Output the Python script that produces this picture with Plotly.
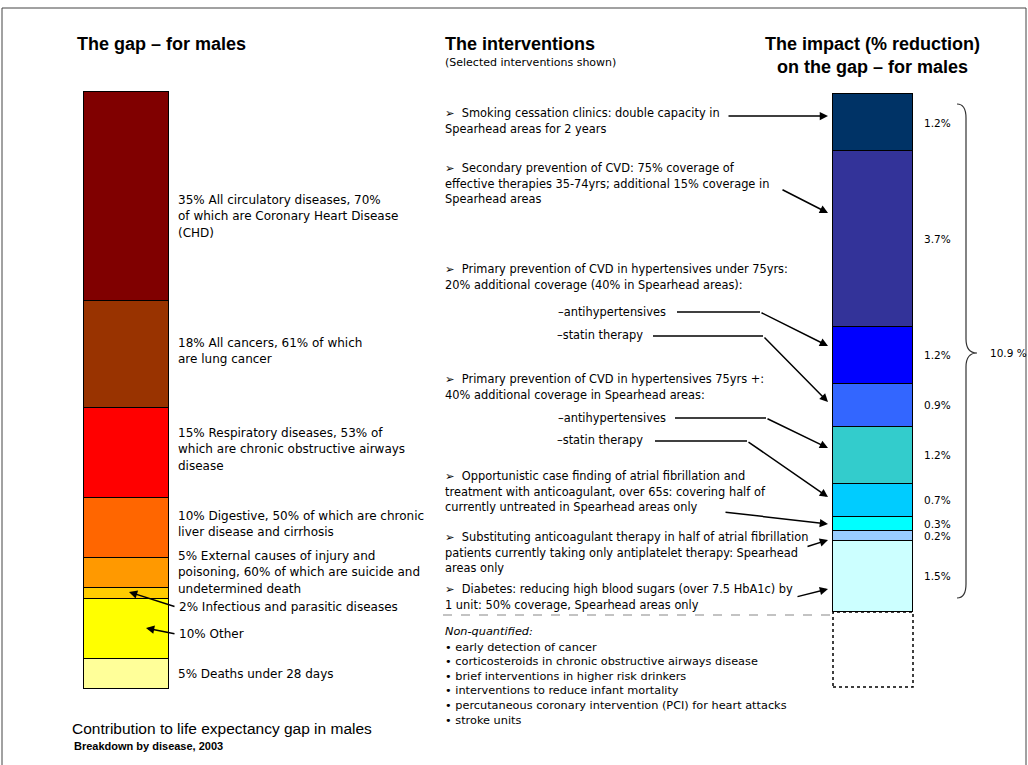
import plotly.graph_objects as go

W, H = 1028, 765
FONT = "Arial, 'Liberation Sans', sans-serif"
BODY = "'DejaVu Sans', Verdana, sans-serif"

# ---------------- data ----------------
# Left bar: contribution to life expectancy gap (bottom -> top)
gap_causes = ["Deaths under 28 days", "Other", "Infectious and parasitic diseases",
              "External causes of injury and poisoning", "Digestive",
              "Respiratory diseases", "All cancers", "All circulatory diseases"]
gap_share = [5, 10, 2, 5, 10, 15, 18, 35]
gap_colors = ["#FFFF99", "#FFFF00", "#FFCC00", "#FF9900", "#FF6600",
              "#FF0000", "#993300", "#800000"]

# Right bar: impact (% reduction) on the gap (bottom -> top)
interv_names = ["Diabetes", "Substituting anticoagulant therapy", "Opportunistic AF finding",
                "Statin therapy 75+", "Antihypertensives 75+", "Statin therapy <75",
                "Antihypertensives <75", "Secondary prevention of CVD", "Smoking cessation"]
impact = [1.5, 0.2, 0.3, 0.7, 1.2, 0.9, 1.2, 3.7, 1.2]
impact_colors = ["#CCFFFF", "#99CCFF", "#00FFFF", "#00CCFF", "#33CCCC",
                 "#3366FF", "#0000FF", "#333399", "#003366"]
impact_total_label = "10.9 %"

left_labels = [
    "35% All circulatory diseases, 70%<br>of which are Coronary Heart Disease<br>(CHD)",
    "18% All cancers, 61% of which<br>are lung cancer",
    "15% Respiratory diseases, 53% of<br>which are chronic obstructive airways<br>disease",
    "10% Digestive, 50% of which are chronic<br>liver disease and cirrhosis",
    "5% External causes of injury and<br>poisoning, 60% of which are suicide and<br>undetermined death",
    "2% Infectious and parasitic diseases",
    "10% Other",
    "5% Deaths under 28 days",
]

intervention_texts = [
    "➢  Smoking cessation clinics: double capacity in<br>Spearhead areas for 2 years",
    "➢  Secondary prevention of CVD: 75% coverage of<br>effective therapies 35-74yrs; additional 15% coverage in<br>Spearhead areas",
    "➢  Primary prevention of CVD in hypertensives under 75yrs:<br>20% additional coverage (40% in Spearhead areas):",
    "➢  Primary prevention of CVD in hypertensives 75yrs +:<br>40% additional coverage in Spearhead areas:",
    "➢  Opportunistic case finding of atrial fibrillation and<br>treatment with anticoagulant, over 65s: covering half of<br>currently untreated in Spearhead areas only",
    "➢  Substituting anticoagulant therapy in half of atrial fibrillation<br>patients currently taking only antiplatelet therapy: Spearhead<br>areas only",
    "➢  Diabetes: reducing high blood sugars (over 7.5 HbA1c) by<br>1 unit: 50% coverage, Spearhead areas only",
]
sub_items = ["–antihypertensives", "–statin therapy"]

non_quantified = ["early detection of cancer",
                  "corticosteroids in chronic obstructive airways disease",
                  "brief interventions in higher risk drinkers",
                  "interventions to reduce infant mortality",
                  "percutaneous coronary intervention (PCI) for heart attacks",
                  "stroke units"]

# ---------------- helpers ----------------
def px(x):
    return x / W


def py(y):
    return 1 - y / H


annotations = []
shapes = []


def text(x, y, s, size=12, bold=False, italic=False, xanchor="left", spacing=None,
         color="black", family=BODY):
    lines = s.split("<br>")
    sp = spacing if spacing else size * 1.35
    for i, ln in enumerate(lines):
        t = ln
        if bold:
            t = "<b>" + t + "</b>"
        if italic:
            t = "<i>" + t + "</i>"
        annotations.append(dict(x=px(x), y=py(y + i * sp), xref="paper", yref="paper",
                                text=t, showarrow=False, xanchor=xanchor, yanchor="middle",
                                font=dict(family=family, size=size, color=color)))


def line(p0, p1, width=1.5, color="black", dash="solid"):
    shapes.append(dict(type="line", xref="paper", yref="paper",
                       x0=px(p0[0]), y0=py(p0[1]), x1=px(p1[0]), y1=py(p1[1]),
                       line=dict(color=color, width=width, dash=dash)))


def arrow(tail, head, via=None):
    start = tail
    if via is not None:
        line(tail, via)
        start = via
    annotations.append(dict(x=px(head[0]), y=py(head[1]), xref="paper", yref="paper",
                            ax=start[0] - head[0], ay=start[1] - head[1],
                            axref="pixel", ayref="pixel", text="", showarrow=True,
                            arrowhead=2, arrowsize=1.1, arrowwidth=1.5,
                            arrowcolor="black", standoff=0, startstandoff=0))


# ---------------- figure ----------------
fig = go.Figure()

for name, v, c in zip(gap_causes, gap_share, gap_colors):
    fig.add_trace(go.Bar(x=[0], y=[v], width=1, name=name, xaxis="x", yaxis="y",
                         marker=dict(color=c, line=dict(color="black", width=1.5)),
                         hoverinfo="name", showlegend=False))

for name, v, c in zip(interv_names, impact, impact_colors):
    fig.add_trace(go.Bar(x=[0], y=[v], width=1, name=name, xaxis="x2", yaxis="y2",
                         marker=dict(color=c, line=dict(color="black", width=1.5)),
                         hoverinfo="name", showlegend=False))

# axis geometry (pixels of bar boxes)
PAD = 4
L_X0, L_X1, L_Y0, L_Y1 = 84, 169, 92, 689
R_X0, R_X1, R_Y0, R_YB, R_Y1 = 833, 913, 94, 612, 687

gap_total = sum(gap_share)
l_scale_y = (L_Y1 - L_Y0) / gap_total
l_scale_x = (L_X1 - L_X0)
total = round(sum(impact), 1)
r_scale_y = (R_YB - R_Y0) / total
r_scale_x = (R_X1 - R_X0)
dash_units = (R_Y1 - R_YB) / r_scale_y

fig.update_layout(
    xaxis=dict(domain=[px(L_X0 - PAD), px(L_X1 + PAD)],
               range=[-0.5 - PAD / l_scale_x, 0.5 + PAD / l_scale_x],
               visible=False, fixedrange=True, anchor="y"),
    yaxis=dict(domain=[py(L_Y1 + PAD), py(L_Y0 - PAD)],
               range=[-PAD / l_scale_y, gap_total + PAD / l_scale_y],
               visible=False, fixedrange=True, anchor="x"),
    xaxis2=dict(domain=[px(R_X0 - PAD), px(R_X1 + PAD)],
                range=[-0.5 - PAD / r_scale_x, 0.5 + PAD / r_scale_x],
                visible=False, fixedrange=True, anchor="y2"),
    yaxis2=dict(domain=[py(R_Y1 + PAD), py(R_Y0 - PAD)],
                range=[-dash_units - PAD / r_scale_y, total + PAD / r_scale_y],
                visible=False, fixedrange=True, anchor="x2"),
    barmode="stack",
    bargap=0,
    width=W, height=H,
    margin=dict(l=0, r=0, t=0, b=0),
    paper_bgcolor="white", plot_bgcolor="rgba(0,0,0,0)",
    showlegend=False,
)

# dashed box below impact bar (non-quantified)
shapes.append(dict(type="rect", xref="x2", yref="y2", x0=-0.5, x1=0.5, y0=-dash_units, y1=0,
                   line=dict(color="black", width=1.5, dash="dot"), layer="above"))

# value labels on impact bar
cum = 0
for v in impact:
    annotations.append(dict(x=0.5, y=cum + v / 2, xref="x2", yref="y2", text=f"{v}%",
                            showarrow=False, xanchor="left", yanchor="middle", xshift=9,
                            font=dict(family=BODY, size=10.5, color="black")))
    cum += v

# curly brace for total
ya_top = total - 10 / r_scale_y
ya_bot = 14 / r_scale_y
ymid = total / 2
d = 14 / r_scale_y
xa, xb, xc = px(957), px(966), px(977)
brace = (f"M {xa},{ya_top} Q {xb},{ya_top} {xb},{ya_top - d} "
         f"L {xb},{ymid + d} Q {xb},{ymid} {xc},{ymid} "
         f"Q {xb},{ymid} {xb},{ymid - d} "
         f"L {xb},{ya_bot + d} Q {xb},{ya_bot} {xa},{ya_bot}")
shapes.append(dict(type="path", xref="paper", yref="y2", path=brace,
                   line=dict(color="#333333", width=1.2)))
annotations.append(dict(x=px(988), y=ymid, xref="paper", yref="y2", text=impact_total_label,
                        showarrow=False, xanchor="left", yanchor="middle",
                        font=dict(family=BODY, size=10.5, color="black")))

# titles
text(75, 44, "The gap – for males", size=18, bold=True, family=FONT)
text(443, 44, "The interventions", size=18, bold=True, family=FONT)
text(443, 62, "(Selected interventions shown)", size=11)
text(872, 44, "The impact (% reduction)<br>on the gap – for males", size=18, bold=True,
     xanchor="center", spacing=23, family=FONT)

# left labels
left_label_y = [200, 343, 433, 516, 556, 607, 634, 674]
left_label_x = [176, 176, 176, 176, 176, 177, 177, 176]
for s, yy, xx in zip(left_labels, left_label_y, left_label_x):
    text(xx, yy, s, size=12, spacing=16.3)
arrow((176, 607), (129, 592))
arrow((176, 634), (146, 628))

# bottom-left captions
text(70, 728, "Contribution to life expectancy gap in males", size=15.5, family=FONT)
text(72, 746, "Breakdown by disease, 2003", size=11, bold=True, family=FONT)

# intervention texts
interv_y = [113, 168, 269, 379, 476, 537, 589]
for s, yy in zip(intervention_texts, interv_y):
    text(443, yy, s, size=11.4, spacing=15.6)

text(668, 312, sub_items[0], size=11.4, xanchor="right")
text(645, 335, sub_items[1], size=11.4, xanchor="right")
text(668, 418, sub_items[0], size=11.4, xanchor="right")
text(645, 440, sub_items[1], size=11.4, xanchor="right")

# intervention arrows
arrow((727, 116), (828, 116))
arrow((781, 189), (828, 213))
arrow((677, 312), (828, 346), via=(760, 312))
arrow((653, 336), (828, 402), via=(763, 336))
arrow((675, 418), (828, 448), via=(766, 418))
arrow((655, 441), (828, 497), via=(747, 441))
arrow((724, 512), (828, 524))
arrow((806, 547), (828, 540))
arrow((796, 597), (828, 589))

# dashed separator and non-quantified list
line((443, 615), (831, 615), width=1.2, color="#888888", dash="dash")
text(443, 631, "Non-quantified:", size=11.3, italic=True)
for i, item in enumerate(non_quantified):
    text(443, 647 + i * 14.6, "• " + item, size=11.3)

# page frame
shapes.append(dict(type="rect", xref="paper", yref="paper", x0=px(2), x1=px(1026),
                   y0=py(772), y1=py(8), line=dict(color="#444444", width=1)))

fig.update_layout(annotations=annotations, shapes=shapes)
fig.write_html("out.html")
